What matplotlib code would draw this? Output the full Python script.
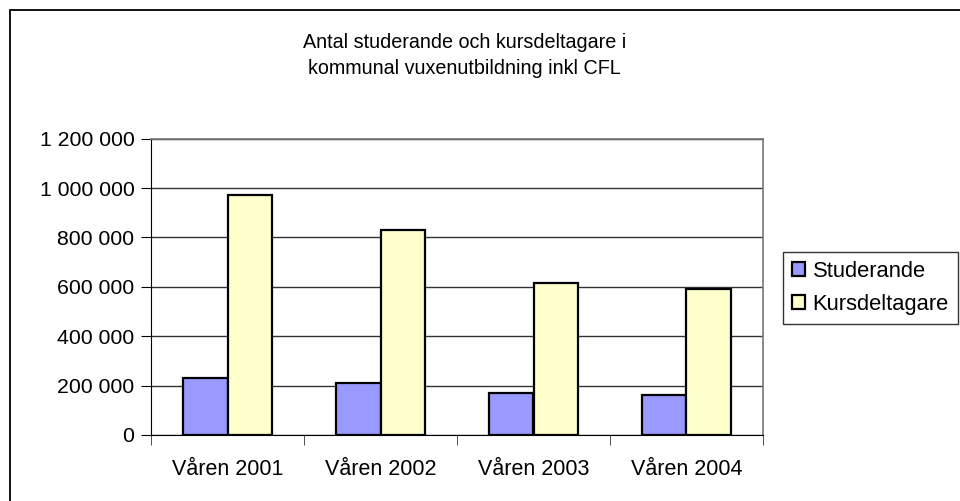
import matplotlib
matplotlib.use("Agg")
import matplotlib.pyplot as plt
import numpy as np
from matplotlib.patches import Rectangle
from matplotlib.ticker import FuncFormatter

plt.rcParams["font.family"] = ["Liberation Sans", "DejaVu Sans"]
plt.rcParams["font.size"] = 15

# Data
categories = ["Våren 2001", "Våren 2002", "Våren 2003", "Våren 2004"]
studerande = [231000, 209000, 171000, 163000]
kursdeltagare = [974000, 832000, 615000, 590000]

STUD_COLOR = "#9999ff"
KURS_COLOR = "#ffffcc"

fig = plt.figure(figsize=(9.6, 5.01), dpi=100)

# outer chart frame (clipped at right/bottom like the reference)
fig.patches.append(
    Rectangle((9.5 / 960, -0.1), 1.2, (1 - 10 / 501) + 0.1,
              transform=fig.transFigure, fill=False, edgecolor="black",
              linewidth=1.3)
)

ax = fig.add_axes([151 / 960, 1 - 435 / 501, 612 / 960, (435 - 138.7) / 501])

x = np.arange(len(categories))
w = 0.29
ax.bar(x - w / 2, studerande, w, color=STUD_COLOR, edgecolor="black",
       linewidth=1.6, label="Studerande", zorder=3)
ax.bar(x + w / 2, kursdeltagare, w, color=KURS_COLOR, edgecolor="black",
       linewidth=1.6, label="Kursdeltagare", zorder=3)

ax.set_xlim(-0.5, len(categories) - 0.5)
ax.set_ylim(0, 1200000)
ax.set_yticks(np.arange(0, 1200001, 200000))
ax.yaxis.set_major_formatter(
    FuncFormatter(lambda v, p: f"{int(v):,}".replace(",", " "))
)
ax.grid(axis="y", color="#333333", linewidth=1.0, zorder=0)

# category labels centered, ticks at boundaries
ax.set_xticks(x)
ax.set_xticklabels(categories, fontsize=15.5)
ax.tick_params(axis="x", length=0, pad=17)
ax.set_xticks(np.arange(-0.5, len(categories), 1), minor=True)
ax.tick_params(axis="x", which="minor", length=7, direction="out",
               color="#333333")
ax.tick_params(axis="y", length=7, direction="out", pad=5, labelsize=15.3)

for s in ["top", "right"]:
    ax.spines[s].set_color("#777777")
    ax.spines[s].set_linewidth(1.2)
ax.spines["left"].set_color("black")
ax.spines["bottom"].set_color("black")

fig.text(0.484, 1 - 43 / 501, "Antal studerande och kursdeltagare i",
         ha="center", va="center", fontsize=14.2)
fig.text(0.484, 1 - 69 / 501, "kommunal vuxenutbildning inkl CFL",
         ha="center", va="center", fontsize=14.2)

leg = fig.legend(loc="upper left", bbox_to_anchor=(783 / 960, 1 - 252 / 501),
                 frameon=True, fancybox=False, edgecolor="black",
                 handlelength=0.6, handleheight=0.6, handletextpad=0.35,
                 borderpad=0.4, labelspacing=0.55, borderaxespad=0,
                 fontsize=15.8)
leg.get_frame().set_linewidth(1.0)

fig.savefig("out.png", dpi=100)
